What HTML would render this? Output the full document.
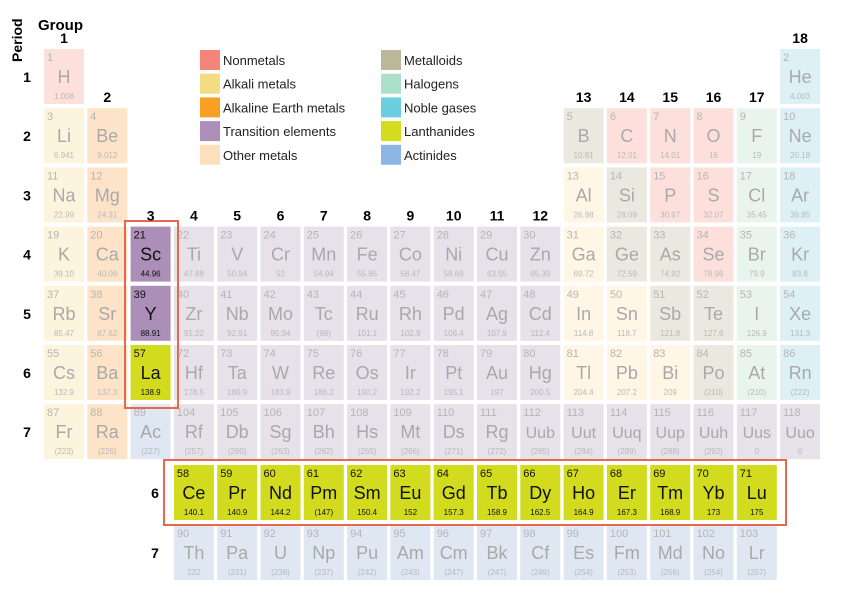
<!DOCTYPE html>
<html><head><meta charset="utf-8">
<style>
body{margin:0;background:#fff;}
svg{display:block;font-family:"Liberation Sans","DejaVu Sans",sans-serif;}
</style></head>
<body>
<svg id="pt" width="842" height="598" viewBox="0 0 842 598">
<text x="22" y="62" transform="rotate(-90 22 62)" font-size="14" font-weight="bold">Period</text>
<text x="38" y="30" font-size="15" font-weight="bold">Group</text>
<rect x="125" y="221" width="53" height="187" fill="none" stroke="#e8674f" stroke-width="2"/>
<rect x="164" y="460" width="622" height="65" fill="none" stroke="#e8674f" stroke-width="2"/>
</svg>
<script>
const catFill={nm:'#fde0dc',alk:'#fdf4de',ae:'#fde4c8',tr:'#e7e1ea',oth:'#fff6e6',mtl:'#ebe8df',hal:'#e9f4ee',nob:'#dcf0f6',act:'#dfe7f3',trA:'#ab8fb8',lanA:'#d3db1f'};
const legendLabels=['Nonmetals','Alkali metals','Alkaline Earth metals','Transition elements','Other metals','Metalloids','Halogens','Noble gases','Lanthanides','Actinides'];
const legendColors=['#f4857a','#f3dd82','#f8a023','#ae8fba','#fde0bb','#bcb898','#ace0cc','#6ccfe0','#d4dc1e','#8eb6e4'];
// num,symbol,mass,row,col,category
const elements=`1,H,1.008,1,1,nm;2,He,4.003,1,18,nob;
3,Li,6.941,2,1,alk;4,Be,9.012,2,2,ae;5,B,10.81,2,13,mtl;6,C,12.01,2,14,nm;7,N,14.01,2,15,nm;8,O,16,2,16,nm;9,F,19,2,17,hal;10,Ne,20.18,2,18,nob;
11,Na,22.99,3,1,alk;12,Mg,24.31,3,2,ae;13,Al,26.98,3,13,oth;14,Si,28.09,3,14,mtl;15,P,30.97,3,15,nm;16,S,32.07,3,16,nm;17,Cl,35.45,3,17,hal;18,Ar,39.95,3,18,nob;
19,K,39.10,4,1,alk;20,Ca,40.08,4,2,ae;21,Sc,44.96,4,3,trA;22,Ti,47.88,4,4,tr;23,V,50.94,4,5,tr;24,Cr,52,4,6,tr;25,Mn,54.94,4,7,tr;26,Fe,55.85,4,8,tr;27,Co,58.47,4,9,tr;28,Ni,58.69,4,10,tr;29,Cu,63.55,4,11,tr;30,Zn,65.39,4,12,tr;31,Ga,69.72,4,13,oth;32,Ge,72.59,4,14,mtl;33,As,74.92,4,15,mtl;34,Se,78.96,4,16,nm;35,Br,79.9,4,17,hal;36,Kr,83.8,4,18,nob;
37,Rb,85.47,5,1,alk;38,Sr,87.62,5,2,ae;39,Y,88.91,5,3,trA;40,Zr,91.22,5,4,tr;41,Nb,92.91,5,5,tr;42,Mo,95.94,5,6,tr;43,Tc,(98),5,7,tr;44,Ru,101.1,5,8,tr;45,Rh,102.9,5,9,tr;46,Pd,106.4,5,10,tr;47,Ag,107.9,5,11,tr;48,Cd,112.4,5,12,tr;49,In,114.8,5,13,oth;50,Sn,118.7,5,14,oth;51,Sb,121.8,5,15,mtl;52,Te,127.6,5,16,mtl;53,I,126.9,5,17,hal;54,Xe,131.3,5,18,nob;
55,Cs,132.9,6,1,alk;56,Ba,137.3,6,2,ae;57,La,138.9,6,3,lanA;72,Hf,178.5,6,4,tr;73,Ta,180.9,6,5,tr;74,W,183.9,6,6,tr;75,Re,186.2,6,7,tr;76,Os,190.2,6,8,tr;77,Ir,192.2,6,9,tr;78,Pt,195.1,6,10,tr;79,Au,197,6,11,tr;80,Hg,200.5,6,12,tr;81,Tl,204.4,6,13,oth;82,Pb,207.2,6,14,oth;83,Bi,209,6,15,oth;84,Po,(210),6,16,mtl;85,At,(210),6,17,hal;86,Rn,(222),6,18,nob;
87,Fr,(223),7,1,alk;88,Ra,(226),7,2,ae;89,Ac,(227),7,3,act;104,Rf,(257),7,4,tr;105,Db,(260),7,5,tr;106,Sg,(263),7,6,tr;107,Bh,(262),7,7,tr;108,Hs,(265),7,8,tr;109,Mt,(266),7,9,tr;110,Ds,(271),7,10,tr;111,Rg,(272),7,11,tr;112,Uub,(285),7,12,tr;113,Uut,(284),7,13,tr;114,Uuq,(289),7,14,tr;115,Uup,(288),7,15,tr;116,Uuh,(292),7,16,tr;117,Uus,0,7,17,tr;118,Uuo,0,7,18,tr;
58,Ce,140.1,8,4,lanA;59,Pr,140.9,8,5,lanA;60,Nd,144.2,8,6,lanA;61,Pm,(147),8,7,lanA;62,Sm,150.4,8,8,lanA;63,Eu,152,8,9,lanA;64,Gd,157.3,8,10,lanA;65,Tb,158.9,8,11,lanA;66,Dy,162.5,8,12,lanA;67,Ho,164.9,8,13,lanA;68,Er,167.3,8,14,lanA;69,Tm,168.9,8,15,lanA;70,Yb,173,8,16,lanA;71,Lu,175,8,17,lanA;
90,Th,232,9,4,act;91,Pa,(231),9,5,act;92,U,(238),9,6,act;93,Np,(237),9,7,act;94,Pu,(242),9,8,act;95,Am,(243),9,9,act;96,Cm,(247),9,10,act;97,Bk,(247),9,11,act;98,Cf,(249),9,12,act;99,Es,(254),9,13,act;100,Fm,(253),9,14,act;101,Md,(256),9,15,act;102,No,(254),9,16,act;103,Lr,(257),9,17,act`;
const groupLabels=[[1,1],[2,2],[3,4],[4,4],[5,4],[6,4],[7,4],[8,4],[9,4],[10,4],[11,4],[12,4],[13,2],[14,2],[15,2],[16,2],[17,2],[18,1]];
const periodLabels=[[1,1],[2,2],[3,3],[4,4],[5,5],[6,6],[7,7]];
const seriesLabels=[[6,8],[7,9]];

const NS='http://www.w3.org/2000/svg';
const svg=document.getElementById('pt');
const colX=c=>44+(c-1)*43.3;
const rowY=r=>r<=7?49+(r-1)*59.2:(r==8?465:525);
function mk(tag,attrs,txt){const e=document.createElementNS(NS,tag);for(const k in attrs)e.setAttribute(k,attrs[k]);if(txt!==undefined)e.textContent=txt;return e;}
const boxes=[...svg.querySelectorAll('rect')];
elements.split(';').forEach(s=>{
  const [n,sym,m,r,c,cat]=s.trim().split(',');
  const x=colX(+c),y=rowY(+r),act=cat.endsWith('A');
  const g=mk('g',{});
  
  
  const col=act?'#111':'#a9a9a9';
  g.appendChild(mk('rect',{x:x,y:y,width:40,height:55,fill:catFill[cat]}));
  g.appendChild(mk('text',{x:x+3,y:y+12,'font-size':11,fill:act?'#111':'#b5b5b5'},n));
  g.appendChild(mk('text',{x:x+20,y:y+34,'font-size':sym.length>2?16:18,'text-anchor':'middle',fill:col},sym));
  g.appendChild(mk('text',{x:x+20,y:y+50,'font-size':8,'text-anchor':'middle',fill:act?'#111':'#b8b8b8'},m));
  svg.insertBefore(g,boxes[0]);
});
groupLabels.forEach(([g,r])=>{
  const t=mk('text',{x:colX(g)+20,y:rowY(r)-6,'font-size':14,'font-weight':'bold','text-anchor':'middle'},g);
  
  
  svg.appendChild(t);
});
periodLabels.forEach(([p,r])=>{
  const t=mk('text',{x:27,y:rowY(r)+33,'font-size':14,'font-weight':'bold','text-anchor':'middle'},p);
  
  
  svg.appendChild(t);
});
seriesLabels.forEach(([p,r])=>{
  const t=mk('text',{x:155,y:rowY(r)+33,'font-size':14,'font-weight':'bold','text-anchor':'middle'},p);
  
  
  svg.appendChild(t);
});
legendLabels.forEach((lab,i)=>{
  const x=i<5?200:381,y=50+(i%5)*23.7;
  const g=mk('g',{});
  
  
  g.appendChild(mk('rect',{x:x,y:y,width:20,height:20,fill:legendColors[i]}));
  g.appendChild(mk('text',{x:x+23,y:y+15,'font-size':13,fill:'#222'},lab));
  svg.appendChild(g);
});
</script>
</body></html>
